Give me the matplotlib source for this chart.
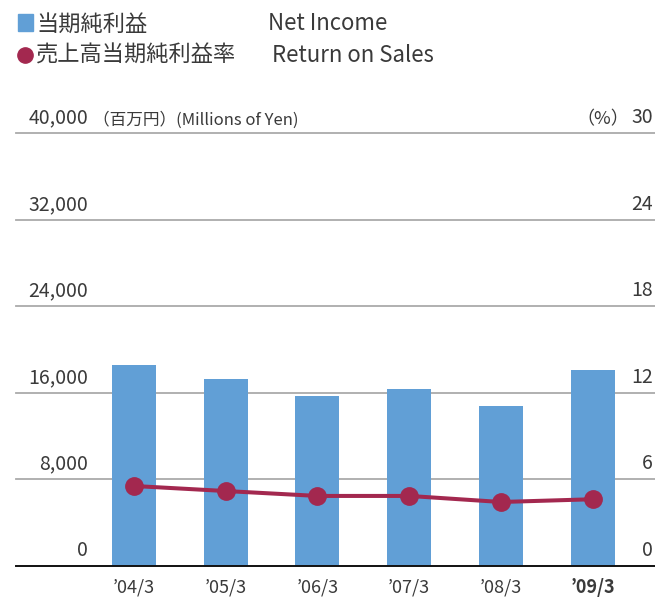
import numpy as np
import matplotlib.pyplot as plt
from matplotlib.patches import Rectangle
from matplotlib.lines import Line2D

plt.rcParams['font.family'] = ['Noto Sans CJK JP', 'DejaVu Sans']

# data
years = ["’04/3", "’05/3", "’06/3", "’07/3", "’08/3", "’09/3"]
net_income = [18560, 17270, 15700, 16350, 14770, 18100]   # millions of yen
return_on_sales = [5.53, 5.18, 4.84, 4.84, 4.42, 4.61]    # %
left_ticks = [0, 8000, 16000, 24000, 32000, 40000]
right_ticks = [0, 6, 12, 18, 24, 30]

bar_color = '#619fd6'
line_color = '#a3284f'
text_color = '#3a3a3a'

W, H = 655, 598
fig = plt.figure(figsize=(W / 100, H / 100), dpi=100)
ax = fig.add_axes([16 / W, (H - 565.7) / H, 639 / W, 432.4 / H])
ax2 = ax.twinx()

x = np.arange(len(years))
ax.bar(x, net_income, width=0.48, color=bar_color, zorder=2)
ax.set_xlim(-1.287, 5.68)
ax.set_ylim(0, 40000)

# grid lines
for t in left_ticks[1:]:
    ax.axhline(t, color='#aaaaaa', lw=1.3, zorder=1, clip_on=False)
ax.axhline(0, color='#111111', lw=1.4, zorder=3, clip_on=False)

ax2.plot(x, return_on_sales, color=line_color, lw=2.9, marker='o',
         markersize=12.5, zorder=4, clip_on=False)
ax2.set_ylim(0, 30)

for a in (ax, ax2):
    for s in a.spines.values():
        s.set_visible(False)
    a.set_yticks([])
    a.tick_params(length=0)
ax2.set_zorder(ax.get_zorder() + 1)
ax2.patch.set_visible(False)

# x labels
ax.set_xticks(x)
ax.set_xticklabels(years, fontsize=13, color=text_color)
ax.tick_params(axis='x', pad=9)
ax.get_xticklabels()[-1].set_fontweight('bold')

# y labels above the gridlines
trans_l = ax.get_yaxis_transform()
for t in left_ticks:
    ax.text(72 / 639, t + 450, f"{t:,}", transform=trans_l,
            ha='right', va='bottom', fontsize=14, color=text_color)
ax.text(77 / 639, left_ticks[-1] + 450, "（百万円）(Millions of Yen)", transform=trans_l,
        ha='left', va='bottom', fontsize=12, color=text_color)
trans_r = ax2.get_yaxis_transform()
for t in right_ticks:
    ax2.text(637 / 639, t + 0.34, f"{t}", transform=trans_r,
             ha='right', va='bottom', fontsize=14, color=text_color)
ax2.text(613 / 639, right_ticks[-1] + 0.34, "（%）", transform=trans_r,
         ha='right', va='bottom', fontsize=13, color=text_color)

# legend
fig.add_artist(Rectangle((18 / W, 1 - 31 / H), 15 / W, 17 / H,
                         transform=fig.transFigure, color=bar_color))
fig.add_artist(Line2D([25 / W], [1 - 55 / H], marker='o', markersize=11,
                      color=line_color, transform=fig.transFigure))
fig.text(36 / W, 1 - 24 / H, "当期純利益", fontsize=16, va='center', color=text_color)
fig.text(268 / W, 1 - 24 / H, "Net Income", fontsize=16, va='center', color=text_color)
fig.text(36 / W, 1 - 55 / H, "売上高当期純利益率", fontsize=16, va='center', color=text_color)
fig.text(272 / W, 1 - 55 / H, "Return on Sales", fontsize=16, va='center', color=text_color)

fig.savefig('out.png', dpi=100)
